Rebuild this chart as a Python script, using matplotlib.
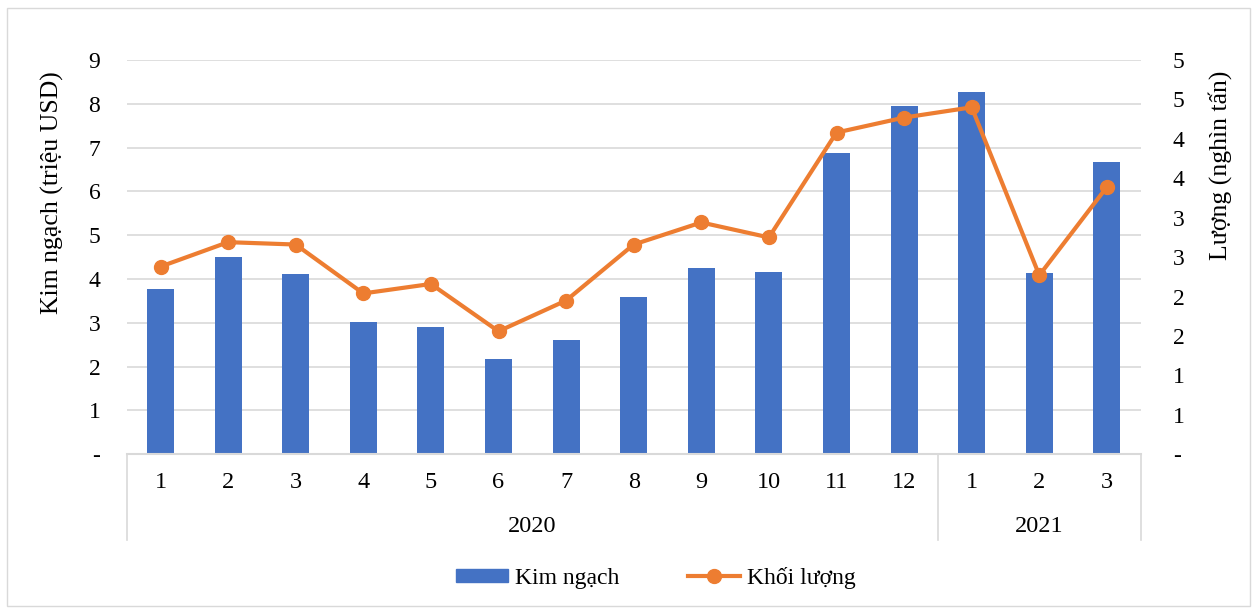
import math
import matplotlib
matplotlib.use("Agg")
import matplotlib.pyplot as plt
from matplotlib.patches import Rectangle, Patch
from matplotlib.lines import Line2D
from matplotlib.ticker import FixedLocator, FuncFormatter
import matplotlib.transforms as mtransforms

months = ["1", "2", "3", "4", "5", "6", "7", "8", "9", "10", "11", "12", "1", "2", "3"]
years = ["2020", "2021"]
year_counts = [12, 3]
kim_ngach = [3.77, 4.50, 4.12, 3.02, 2.91, 2.17, 2.61, 3.59, 4.25, 4.15, 6.88, 7.95, 8.28, 4.13, 6.67]
khoi_luong = [2.38, 2.69, 2.66, 2.04, 2.16, 1.56, 1.95, 2.66, 2.94, 2.75, 4.08, 4.27, 4.40, 2.27, 3.39]

BLUE = "#4472C4"
ORANGE = "#ED7D31"
GRID = "#D9D9D9"
TXT = "#000000"
FS = 17

plt.rcParams["font.family"] = ["Liberation Serif", "DejaVu Serif"]

fig = plt.figure(figsize=(12.58, 6.10), dpi=100)
fig.patches.append(Rectangle((7 / 1258, 4 / 610), 1243 / 1258, 598 / 610, transform=fig.transFigure,
                             fill=False, edgecolor="#D9D9D9", linewidth=1))
ax = fig.add_axes([126.7 / 1258, 1 - 454.3 / 610, (1140.7 - 126.7) / 1258, (454.3 - 60) / 610])
ax2 = ax.twinx()

x = list(range(len(months)))
ax.bar(x, kim_ngach, width=0.4, color=BLUE, zorder=2)
ax2.plot(x, khoi_luong, color=ORANGE, linewidth=3, marker="o", markersize=10, zorder=3)

ax.set_xlim(-0.5, len(months) - 0.5)
ax.set_ylim(0, 9)
ax2.set_ylim(0, 5)

ax.yaxis.set_major_locator(FixedLocator(range(0, 10)))
ax.yaxis.set_major_formatter(FuncFormatter(lambda v, p: "-" if abs(v) < 1e-9 else f"{int(round(v))}"))
ax2.yaxis.set_major_locator(FixedLocator([i * 0.5 for i in range(11)]))
ax2.yaxis.set_major_formatter(FuncFormatter(lambda v, p: "-" if abs(v) < 1e-9 else f"{int(math.floor(v + 0.5))}"))

ax.grid(axis="y", color=GRID, linewidth=1.2, zorder=0)
ax.set_axisbelow(True)
for a in (ax, ax2):
    for s in ("top", "left", "right", "bottom"):
        a.spines[s].set_visible(False)
ax.tick_params(axis="y", length=0, pad=19, labelsize=FS, labelcolor=TXT)
ax2.tick_params(axis="y", length=0, pad=23, labelsize=FS, labelcolor=TXT)
ax.set_xticks([])
ax2.set_xticks([])

fig.text(52 / 1258, 1 - 193 / 610, "Kim ngạch (triệu USD)", rotation=90, ha="center", va="center",
         fontsize=18.5, color=TXT)
fig.text(1220 / 1258, 1 - 165 / 610, "Lượng (nghìn tấn)", rotation=90, ha="center", va="center",
         fontsize=18.5, color=TXT)

# bottom axis and category boxes
trans = mtransforms.blended_transform_factory(ax.transData, ax.transAxes)
ax.plot([-0.5, len(months) - 0.5], [0, 0], transform=trans, color=GRID, linewidth=1.5, clip_on=False, zorder=4)
depth = -(540 - 454.3) / 394.3
bounds = [-0.5]
acc = -0.5
for c in year_counts:
    acc += c
    bounds.append(acc)
for b in bounds:
    ax.plot([b, b], [0, depth], transform=trans, color=GRID, linewidth=1.2, clip_on=False)
month_y = -(483 - 454.3) / 394.3
year_y = -(526 - 454.3) / 394.3
for i, m in enumerate(months):
    ax.text(i, month_y, m, transform=trans, ha="center", va="center", fontsize=17.5, color=TXT)
for k, yr in enumerate(years):
    ax.text((bounds[k] + bounds[k + 1]) / 2, year_y, yr, transform=trans, ha="center", va="center",
            fontsize=17.5, color=TXT)

handles = [Patch(facecolor=BLUE, edgecolor=BLUE),
           Line2D([0], [0], color=ORANGE, linewidth=3, marker="o", markersize=10)]
fig.legend(handles, ["Kim ngạch", "Khối lượng"], loc="center", bbox_to_anchor=(656 / 1258, 1 - 578 / 610),
           ncol=2, frameon=False, fontsize=17, handlelength=2.2, handleheight=0.5,
           handletextpad=0.3, columnspacing=2.9)

fig.savefig("out.png", dpi=100)
